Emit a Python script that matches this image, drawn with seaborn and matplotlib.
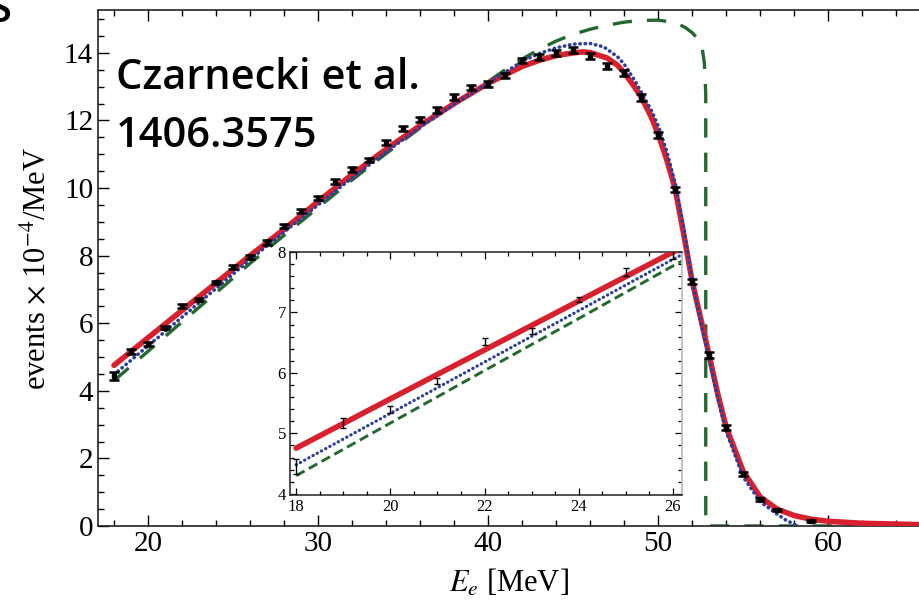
import numpy as np
import pandas as pd
import matplotlib
matplotlib.use("Agg")
import matplotlib.pyplot as plt
import seaborn as sns
from matplotlib.ticker import MultipleLocator

# ---------------- data ----------------
# measured points, E in MeV, events x 1e-4 / MeV
pts_E = [18, 19, 20, 21, 22, 23, 24, 25, 26, 27, 28, 29, 30, 31, 32, 33, 34, 35,
         36, 37, 38, 39, 40, 41, 42, 43, 44, 45, 46, 47, 48, 49, 50, 51, 52, 53,
         54, 55, 56, 57, 59]
pts_y = [4.45, 5.17, 5.39, 5.87, 6.52, 6.70, 7.21, 7.67, 7.95, 8.39, 8.88, 9.33,
         9.72, 10.19, 10.56, 10.83, 11.34, 11.77, 12.03, 12.31, 12.70, 12.98,
         13.08, 13.34, 13.77, 13.89, 14.00, 14.08, 13.91, 13.61, 13.41, 12.68,
         11.56, 9.96, 7.24, 5.06, 2.91, 1.54, 0.79, 0.47, 0.16]
pts_err = [0.12, 0.08, 0.06, 0.05, 0.06, 0.05, 0.04, 0.06, 0.06, 0.06, 0.06, 0.06,
           0.06, 0.07, 0.07, 0.07, 0.07, 0.08, 0.08, 0.08, 0.08, 0.08, 0.08, 0.08,
           0.08, 0.09, 0.09, 0.09, 0.09, 0.09, 0.09, 0.09, 0.09, 0.08, 0.08, 0.08,
           0.07, 0.06, 0.05, 0.04, 0.03]

# red solid curve
red_E = [18, 20, 22, 24, 26, 28, 30, 32, 34, 36, 38, 40, 42, 43, 44, 45, 45.6, 46,
         47, 47.6, 48, 48.6, 49, 49.6, 50, 50.5, 51, 51.5, 52, 52.5, 53, 53.5, 54,
         55, 56, 57, 58, 59, 60, 62, 65.5]
red_y = [4.755, 5.57, 6.38, 7.19, 8.00, 8.78, 9.60, 10.40, 11.15, 11.85, 12.50,
         13.10, 13.60, 13.78, 13.92, 14.00, 14.03, 14.01, 13.85, 13.64, 13.42,
         13.00, 12.70, 12.10, 11.60, 10.85, 9.98, 8.65, 7.25, 6.15, 5.06, 3.92,
         2.93, 1.62, 0.86, 0.50, 0.31, 0.20, 0.14, 0.08, 0.04]

# blue dotted curve
blue_E = [18, 20, 22, 24, 26, 28, 30, 32, 34, 36, 38, 40, 42, 43, 44, 45, 46, 46.8,
          47.6, 48, 48.6, 49, 49.6, 50, 50.5, 51, 51.5, 52, 52.5, 53, 53.5, 54, 55,
          56, 57, 57.5, 58, 58.3]
blue_y = [4.48, 5.33, 6.18, 7.03, 7.88, 8.70, 9.50, 10.30, 11.07, 11.80, 12.48,
          13.10, 13.75, 13.98, 14.15, 14.26, 14.28, 14.18, 13.89, 13.67, 13.20,
          12.85, 12.30, 11.85, 11.10, 10.15, 8.85, 7.25, 6.05, 4.95, 3.80, 2.80,
          1.45, 0.72, 0.35, 0.18, 0.05, 0.0]

# green dashed curve
green_E = [18, 20, 22, 24, 26, 28, 30, 32, 34, 36, 38, 40, 41, 42, 43, 44, 45, 46,
           47, 48, 49, 50, 51, 51.6, 52, 52.4, 52.6, 52.72, 52.8, 52.8, 65.5]
green_y = [4.30, 5.17, 6.04, 6.90, 7.77, 8.60, 9.42, 10.24, 11.02, 11.78, 12.50,
           13.15, 13.50, 13.82, 14.10, 14.35, 14.55, 14.70, 14.82, 14.91, 14.96,
           14.97, 14.90, 14.75, 14.60, 14.38, 14.10, 13.70, 12.80, 0.0, 0.0]

main_xticks = [20, 30, 40, 50, 60]
main_yticks = [0, 2, 4, 6, 8, 10, 12, 14]
inset_xticks = [18, 20, 22, 24, 26]
inset_yticks = [4, 5, 6, 7, 8]

RED = "#d9202f"
BLUE = "#2d3d9c"
GREEN = "#24672f"

# ---------------- figure ----------------
sns.set_theme(style="ticks")
plt.rcParams["font.family"] = ["Liberation Serif", "DejaVu Serif"]
plt.rcParams["mathtext.fontset"] = "stix"
plt.rcParams["text.color"] = "black"
plt.rcParams["axes.labelcolor"] = "black"

fig = plt.figure(figsize=(9.2, 6.08), dpi=100)
ax = fig.add_axes([98 / 920, 82 / 608, 1 - 98 / 920, 516 / 608])

red_df = pd.DataFrame({"E": red_E, "y": red_y})
blue_df = pd.DataFrame({"E": blue_E, "y": blue_y})
green_df = pd.DataFrame({"E": green_E, "y": green_y})


def draw(a, lw_red, lw_blue, lw_green, green_dash, blue_dash, capsize, elw, ms):
    sns.lineplot(data=green_df, x="E", y="y", ax=a, color=GREEN, lw=lw_green,
                 linestyle=(0, green_dash), sort=False, estimator=None, zorder=2)
    sns.lineplot(data=red_df, x="E", y="y", ax=a, color=RED, lw=lw_red,
                 sort=False, estimator=None, zorder=3)
    l = sns.lineplot(data=blue_df, x="E", y="y", ax=a, color=BLUE, lw=lw_blue,
                     linestyle=(0, blue_dash), sort=False, estimator=None, zorder=4)
    l.lines[-1].set_dash_capstyle("round")
    a.errorbar(pts_E, pts_y, yerr=pts_err, fmt="s", ms=ms, color="black",
               ecolor="black", elinewidth=elw, capsize=capsize, capthick=elw,
               zorder=5)


draw(ax, 4.0, 2.6, 2.4, (5.8, 4.5), (0.1, 1.35), 3.4, 1.8, 2.8)

ax.set_xlim(17.06, 65.4)
ax.set_ylim(0, 15.27)
ax.set_xticks(main_xticks)
ax.set_yticks(main_yticks)
ax.xaxis.set_minor_locator(MultipleLocator(2))
ax.yaxis.set_minor_locator(MultipleLocator(0.5))
ax.tick_params(which="both", direction="in", top=True, right=False,
               labelsize=21, colors="black", width=1.0)
ax.tick_params(which="major", length=8)
ax.tick_params(which="minor", length=4.5)
for s in ["left", "bottom", "top"]:
    ax.spines[s].set_color("#222222")
    ax.spines[s].set_linewidth(1.2)
ax.spines["right"].set_visible(False)
ax.set_xlabel(r"$E_e$ [MeV]", fontsize=22, labelpad=8, color="black")
ax.set_ylabel(r"events $\times$ 10$^{-4}$/MeV", fontsize=22, labelpad=8,
              color="black")

fig.text(116 / 920, 1 - 89 / 608, "Czarnecki et al.", fontsize=30,
         family=["Open Sans", "DejaVu Sans"], fontweight="semibold",
         color="black", ha="left", va="baseline")
fig.text(116 / 920, 1 - 147 / 608, "1406.3575", fontsize=30,
         family=["Open Sans", "DejaVu Sans"], fontweight="semibold",
         color="black", ha="left", va="baseline")
fig.text(-0.012, 1 - 22 / 608, "S", fontsize=30,
         family=["Open Sans", "DejaVu Sans"], fontweight="semibold",
         color="black", ha="left", va="baseline")

# ---------------- inset ----------------
ins = fig.add_axes([290 / 920, (608 - 495) / 608, (682 - 290) / 920, (495 - 252) / 608])
ins.set_facecolor("white")
draw(ins, 4.0, 2.3, 2.1, (3.3, 1.7), (0.1, 1.4), 2.0, 1.0, 0)
ins.set_xlim(17.87, 26.19)
ins.set_ylim(3.98, 8.0)
ins.set_xticks(inset_xticks)
ins.set_yticks(inset_yticks)
ins.xaxis.set_minor_locator(MultipleLocator(0.5))
ins.yaxis.set_minor_locator(MultipleLocator(0.2))
ins.tick_params(which="both", direction="in", top=True, right=True,
                labelsize=12, colors="black", width=0.9, pad=3)
ins.tick_params(which="major", length=5)
ins.tick_params(which="minor", length=3)
for s in ["left", "bottom", "top"]:
    ins.spines[s].set_color("#222222")
    ins.spines[s].set_linewidth(1.1)
ins.spines["right"].set_color("#bbbbbb")
ins.set_xlabel("")
ins.set_ylabel("")

fig.savefig("out.png", dpi=100)
